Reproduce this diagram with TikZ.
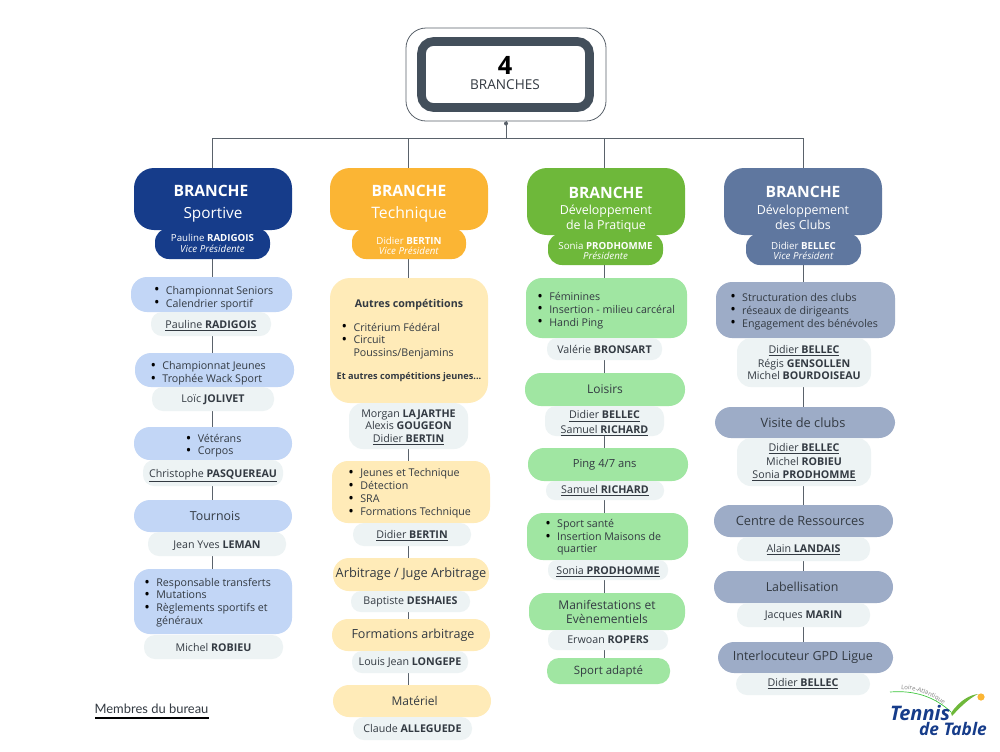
\documentclass[tikz,border=0pt]{standalone}
\usepackage{fontspec}
\setmainfont{Open Sans}
\newfontfamily\lato{Lato}
\usetikzlibrary{backgrounds,decorations.text}
\definecolor{navy}{HTML}{163C8A}
\definecolor{amber}{HTML}{FBB534}
\definecolor{leaf}{HTML}{6EB83A}
\definecolor{slate}{HTML}{5F779F}
\definecolor{lblue}{HTML}{C2D6F6}
\definecolor{lyell}{HTML}{FFEBB8}
\definecolor{lgreen}{HTML}{A0E6A2}
\definecolor{lslate}{HTML}{9DACC7}
\definecolor{lab}{HTML}{EDF3F4}
\definecolor{ink}{HTML}{333A42}
\definecolor{wire}{HTML}{5A626B}
\definecolor{frame}{HTML}{434F5B}
\newcommand{\fs}[1]{\fontsize{#1}{#1}\selectfont}
\newcommand{\bl}[1]{\makebox[8.4pt][l]{\hspace*{-0.5pt}\raisebox{-0.6pt}{\fontsize{11}{11}\selectfont\textcolor{black}{•}}}#1}
\newcommand{\cn}{\hspace*{8.4pt}}
\newcommand{\un}[1]{\underline{#1}}
\newcommand{\tp}[1]{\rule{0pt}{#1pt}}
\newcommand{\lst}[3]{\hspace*{#1pt}\begin{tabular}{@{}l@{}}\rule{0pt}{\dimexpr 5.6pt+#2pt*3/2\relax}#3\end{tabular}}
% \bx{name}{x1}{y1}{x2}{y2}{radius}{style}{text}
\newcommand{\bx}[8]{\pgfmathsetmacro{\w}{(#4-#2)*0.75}\pgfmathsetmacro{\h}{(#5-#3)*0.75}%
\node[boxb,#7,rounded corners=#6*0.75pt,minimum width=\w pt,minimum height=\h pt] (#1) at ({(#2+#4)/2},{(#3+#5)/2}) {#8};}
\tikzset{
 x=0.75pt,y=-0.75pt,
 boxb/.style={inner sep=0pt,outer sep=0pt,align=center,text=ink,font=\fs{8}},
 lbl/.style={fill=lab},
 bb/.style={fill=lblue}, yb/.style={fill=lyell}, gb/.style={fill=lgreen}, sb/.style={fill=lslate},
 big/.style={font=\fs{9.6}},
 mid/.style={font=\fs{9}},
 hd/.style={text=white,font=\fs{11.7}},
 sub/.style={text=white,font=\fs{7.3}},
 wirel/.style={draw=wire,line width=0.75pt},
}
\begin{document}
\begin{tikzpicture}
\begin{pgfonlayer}{background}
\fill[white] (0,0) rectangle (1000,751);
\end{pgfonlayer}
\useasboundingbox (0,0) rectangle (1000,751);
% root
\node[draw=wire,line width=0.6pt,rounded corners=15pt,fill=white,minimum width=150pt,minimum height=69.75pt,inner sep=0pt] (root) at (506,74.5) {};
\node[draw=frame,line width=6.5pt,rounded corners=9pt,fill=white,minimum width=126pt,minimum height=49.5pt,inner sep=0pt,align=center] (inner) at (505.5,74.5) {};
\node[inner sep=0pt,text=black,font=\fs{19}\bfseries] (four) at (505,65) {4};
\node[inner sep=0pt,text=ink,font=\fs{10.2}] (brlab) at (505,84.5) {BRANCHES};
\coordinate (busm) at (506,138);
\coordinate (busl) at (212,138);
\coordinate (busr) at (803,138);
\coordinate (colb) at (408.5,138);
\coordinate (colc) at (604.5,138);
\fill[wire] (506,123.5) circle (1.5pt);
% column 1
\bx{h1}{134}{168}{292}{230}{20}{fill=navy,hd}{\tp{15}\hspace*{-3pt}\textbf{BRANCHE}\\[5pt]{\fs{11.5}Sportive}}
\bx{s1}{155}{228}{270}{259}{14}{fill=navy,sub}{Pauline \textbf{RADIGOIS}\\[1pt]\textit{Vice Présidente}}
\bx{a1}{131}{277}{292}{312}{16}{bb}{\lst{3.75}{4}{\bl{Championnat Seniors}\\[1.2pt]\bl{Calendrier sportif}}}
\bx{la1}{151}{312}{271}{336}{11}{lbl}{\tp{8.5}\un{Pauline \textbf{RADIGOIS}}}
\bx{a2}{135}{353}{294}{387}{16}{bb}{\lst{-9}{4}{\bl{Championnat Jeunes}\\[1.2pt]\bl{Trophée Wack Sport}}}
\bx{la2}{152}{387}{274}{411}{11}{lbl}{\tp{7}Loïc \textbf{JOLIVET}}
\bx{a3}{134}{427}{292}{460}{16}{bb}{\lst{1.5}{3}{\bl{Vétérans}\\[1.2pt]\bl{Corpos}}}
\bx{la3}{143}{460}{283}{486}{11}{lbl}{\tp{10}\un{Christophe \textbf{PASQUEREAU}}}
\bx{a4}{134}{500}{292}{532}{16}{bb,mid}{\hspace*{3pt}{\fs{9.3}Tournois}}
\bx{la4}{148}{532}{286}{556}{11}{lbl}{\tp{8.5}Jean Yves \textbf{LEMAN}}
\bx{a5}{134}{569}{292}{634}{16}{bb}{\lst{-7.5}{2}{\bl{Responsable transferts}\\[1.2pt]\bl{Mutations}\\[1.2pt]\bl{Règlements sportifs et}\\[1.2pt]\cn généraux}}
\bx{la5}{144}{635}{283}{659}{11}{lbl}{Michel \textbf{ROBIEU}}
% column 2
\bx{h2}{330}{168}{488}{230}{20}{fill=amber,hd}{\tp{15.5}\textbf{BRANCHE}\\[5pt]{\fs{11.8}Technique}}
\bx{s2}{352}{228}{466}{259}{14}{fill=amber,sub}{\tp{9}Didier \textbf{BERTIN}\\[0.5pt]\textit{Vice Président}}
\bx{b1}{330}{278}{488}{403}{20}{yb}{\textbf{Autres compétitions}\\[9pt]\hspace*{-16.5pt}\begin{tabular}{@{}l@{}}\bl{Critérium Fédéral}\\[1.2pt]\bl{Circuit}\\[1.2pt]\cn Poussins/Benjamins\end{tabular}\\[9pt]{\fs{6.9}\textbf{Et autres compétitions jeunes...}}}
\bx{lb1}{349}{403}{468}{449}{14}{lbl}{\tp{8}Morgan \textbf{LAJARTHE}\\[1.5pt]Alexis \textbf{GOUGEON}\\[1.5pt]\un{Didier \textbf{BERTIN}}}
\bx{b2}{332}{461}{490}{523}{16}{yb}{\lst{-1.5}{2}{\bl{Jeunes et Technique}\\[1.2pt]\bl{Détection}\\[1.2pt]\bl{SRA}\\[1.2pt]\bl{Formations Technique}}}
\bx{lb2}{353}{523}{471}{546}{11}{lbl}{\tp{7.5}\un{Didier \textbf{BERTIN}}}
\bx{b3}{333}{558}{489}{591}{16}{yb,big}{Arbitrage / Juge Arbitrage}
\bx{lb3}{351}{591}{470}{612}{10}{lbl}{Baptiste \textbf{DESHAIES}}
\bx{b4}{332}{619}{490}{651}{16}{yb,big}{\hspace*{3pt}{\fs{9.4}Formations arbitrage}}
\bx{lb4}{352}{651}{468}{673}{10}{lbl}{\tp{7}Louis Jean \textbf{LONGEPE}}
\bx{b5}{333}{685}{491}{717}{16}{yb,mid}{\hspace*{4pt}Matériel}
\bx{lb5}{353}{717}{472}{740}{11}{lbl}{Claude \textbf{ALLEGUEDE}}
% column 3
\bx{h3}{527}{168}{685}{235}{20}{fill=leaf,hd}{\tp{21}\textbf{BRANCHE}\\[0pt]{\fs{9.3}Développement}\\[-0.45pt]{\fs{9.3}de la Pratique}}
\bx{s3}{548}{233}{663}{265}{14}{fill=leaf,sub}{\tp{8}Sonia \textbf{PRODHOMME}\\[0.5pt]\textit{Présidente}}
\bx{c1}{526}{278}{687}{338}{16}{gb}{\lst{0}{3}{\bl{Féminines}\\[1.2pt]\bl{Insertion - milieu carcéral}\\[1.2pt]\bl{Handi Ping}}}
\bx{lc1}{547}{338}{662}{360}{10}{lbl}{Valérie \textbf{BRONSART}}
\bx{c2}{525}{373}{685}{406}{16}{gb,mid}{Loisirs}
\bx{lc2}{545}{406}{664}{436}{11}{lbl}{\tp{9.5}\un{Didier \textbf{BELLEC}}\\[1.5pt]\un{Samuel \textbf{RICHARD}}}
\bx{c3}{528}{448}{688}{481}{16}{gb,mid}{\hspace*{-5pt}{\fs{8.4}Ping 4/7 ans}}
\bx{lc3}{546}{481}{664}{500}{9}{lbl}{\un{Samuel \textbf{RICHARD}}}
\bx{c4}{527}{513}{688}{560}{16}{gb}{\lst{-6}{1.5}{\bl{Sport santé}\\[1.2pt]\bl{Insertion Maisons de}\\[1.2pt]\cn quartier}}
\bx{lc4}{548}{560}{668}{580}{9}{lbl}{\tp{8.5}\un{Sonia \textbf{PRODHOMME}}}
\bx{c5}{529}{593}{685}{630}{16}{gb,mid}{Manifestations et\\[1.5pt]Evènementiels}
\bx{lc5}{548}{630}{668}{650}{9}{lbl}{Erwoan \textbf{ROPERS}}
\bx{c6}{547}{658}{670}{684}{12}{gb,font=\fs{8.6}}{Sport adapté}
% column 4
\bx{h4}{724}{168}{882}{235}{20}{fill=slate,hd}{\tp{17.5}\textbf{BRANCHE}\\[1pt]{\fs{9.3}Développement}\\[-0.45pt]{\fs{9.3}des Clubs}}
\bx{s4}{746}{233}{861}{265}{14}{fill=slate,sub}{\tp{8}Didier \textbf{BELLEC}\\[0.5pt]\textit{Vice Président}}
\bx{d1}{716}{282}{895}{338}{16}{sb}{\lst{-1.5}{2}{\bl{Structuration des clubs}\\[1.2pt]\bl{réseaux de dirigeants}\\[1.2pt]\bl{Engagement des bénévoles}}}
\bx{ld1}{737}{338}{871}{387}{14}{lbl}{\un{Didier \textbf{BELLEC}}\\[1.5pt]Régis \textbf{GENSOLLEN}\\[1.5pt]Michel \textbf{BOURDOISEAU}}
\bx{d2}{715}{407}{895}{438}{16}{sb,big}{\hspace*{-3pt}Visite de clubs}
\bx{ld2}{737}{438}{871}{486}{14}{lbl}{\un{Didier \textbf{BELLEC}}\\[1.5pt]Michel \textbf{ROBIEU}\\[1.5pt]\un{Sonia \textbf{PRODHOMME}}}
\bx{d3}{714}{505}{893}{537}{16}{sb,big}{\hspace*{-5pt}Centre de Ressources}
\bx{ld3}{737}{537}{870}{561}{11}{lbl}{\tp{7.5}\un{Alain \textbf{LANDAIS}}}
\bx{d4}{714}{571}{893}{603}{16}{sb,mid}{\hspace*{-2pt}{\fs{9.3}Labellisation}}
\bx{ld4}{737}{603}{870}{627}{11}{lbl}{\tp{7}Jacques \textbf{MARIN}}
\bx{d5}{718}{642}{893}{673}{16}{sb,mid}{\hspace*{-4pt}{\fs{9.4}Interlocuteur GPD Ligue}}
\bx{ld5}{736}{673}{870}{695}{11}{lbl}{\un{Didier \textbf{BELLEC}}}
% connectors
\begin{pgfonlayer}{background}
\draw[wirel] (root.south) -- (busm);
\draw[wirel] (busl) -- (busr);
\draw[wirel] (busl) -- (busl |- h1.north);
\draw[wirel] (colb) -- (colb |- h2.north);
\draw[wirel] (colc) -- (colc |- h3.north);
\draw[wirel] (busr) -- (busr |- h4.north);
\draw[wirel] (busl |- s1.south) -- (busl |- a1.north);
\draw[wirel] (busl |- la1.south) -- (busl |- a2.north);
\draw[wirel] (busl |- la2.south) -- (busl |- a3.north);
\draw[wirel] (busl |- la3.south) -- (busl |- a4.north);
\draw[wirel] (busl |- la4.south) -- (busl |- a5.north);
\draw[wirel] (colb |- s2.south) -- (colb |- b1.north);
\draw[wirel] (colb |- lb1.south) -- (colb |- b2.north);
\draw[wirel] (colb |- lb2.south) -- (colb |- b3.north);
\draw[wirel] (colb |- lb3.south) -- (colb |- b4.north);
\draw[wirel] (colb |- lb4.south) -- (colb |- b5.north);
\draw[wirel] (colc |- s3.south) -- (colc |- c1.north);
\draw[wirel] (colc |- lc1.south) -- (colc |- c2.north);
\draw[wirel] (colc |- lc2.south) -- (colc |- c3.north);
\draw[wirel] (colc |- lc3.south) -- (colc |- c4.north);
\draw[wirel] (colc |- lc4.south) -- (colc |- c5.north);
\draw[wirel] (colc |- lc5.south) -- (colc |- c6.north);
\draw[wirel] (busr |- s4.south) -- (busr |- d1.north);
\draw[wirel] (busr |- ld1.south) -- (busr |- d2.north);
\draw[wirel] (busr |- ld2.south) -- (busr |- d3.north);
\draw[wirel] (busr |- ld3.south) -- (busr |- d4.north);
\draw[wirel] (busr |- ld4.south) -- (busr |- d5.north);
\end{pgfonlayer}
% legend
\node[inner sep=0pt,text=ink,font=\lato\fs{9.7}] (legend) at (151.5,708.5) {Membres du bureau};
\draw[black,line width=1.3pt] (95,718) -- (208.5,718);
% logo
\path[decorate,decoration={text along path,text={|\fs{4.6}\color{gray}|Loire-Atlantique},text align=center}] (891,689) .. controls (915,688) and (935,695) .. (951,711);
\draw[green!55!gray,line width=0.5pt] (890,692) .. controls (915,690) and (935,697) .. (951,712);
\fill[leaf] (951,713) .. controls (960,700) and (970,695) .. (978,694) .. controls (970,698) and (962,705) .. (952,716) -- cycle;
\fill[amber] (981,697) circle (2.7pt);
\node[inner sep=0pt,text=navy,font=\fs{15}\bfseries\itshape] (ten) at (920,713) {Tennis};
\node[inner sep=0pt,text=navy,font=\fs{13}\bfseries\itshape] (tab) at (953,729) {de Table};
\end{tikzpicture}
\end{document}
